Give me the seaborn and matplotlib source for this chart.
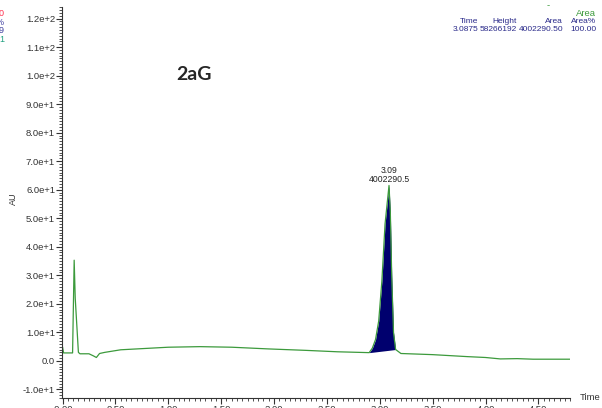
import seaborn as sns
import matplotlib.pyplot as plt
import matplotlib.ticker as mticker
import pandas as pd

# Chromatogram trace (time in min, absorbance in AU)
time = [0.000, 0.004, 0.010, 0.060, 0.095, 0.110, 0.120, 0.150, 0.165, 0.250,
        0.290, 0.320, 0.350, 0.400, 0.550, 0.850, 1.000, 1.300, 1.600, 1.950,
        2.300, 2.600, 2.900, 2.930, 2.960, 2.990, 3.020, 3.050, 3.0875, 3.100,
        3.113, 3.130, 3.150, 3.200, 3.500, 3.830, 4.000, 4.140, 4.300, 4.450, 4.800]
au = [4.9, 4.0, 2.8, 2.8, 2.8, 35.3, 22.0, 3.0, 2.5, 2.5,
      1.8, 1.2, 2.6, 3.0, 3.9, 4.5, 4.8, 5.0, 4.8, 4.2,
      3.7, 3.2, 2.9, 4.5, 7.5, 14.0, 28.0, 48.0, 61.5, 52.0,
      30.0, 10.0, 4.0, 2.6, 2.2, 1.5, 1.2, 0.7, 0.8, 0.6, 0.6]

# integrated peak
peak_start, peak_end = 2.90, 3.15
peak_rt = 3.0875
peak_label = "3.09\n4002290.5"
table_cols = ["Time", "Height", "Area", "Area%"]
table_vals = ["3.0875", "58266192", "4002290.50", "100.00"]

df = pd.DataFrame({"Time": time, "AU": au})

sns.set_style("white")
plt.rcParams["font.family"] = ["Liberation Sans", "DejaVu Sans"]

fig = plt.figure(figsize=(6.02, 4.08), dpi=100)
ax = fig.add_axes([0.103, 0.0245, 0.844, 0.958])

green = "#3c9a3c"
navy = "#00006e"
txt = "#333333"

pk = df[(df.Time >= peak_start) & (df.Time <= peak_end)]
y0, y1 = pk.AU.iloc[0], pk.AU.iloc[-1]
base = y0 + (pk.Time - peak_start) / (peak_end - peak_start) * (y1 - y0)
ax.fill_between(pk.Time, base, pk.AU, color=navy, lw=0)
sns.lineplot(data=df, x="Time", y="AU", ax=ax, color=green, lw=0.9)

ax.set_xlim(-0.005, 4.8)
ax.set_ylim(-13, 124)
ax.set_xlabel("")
ax.set_ylabel("AU", fontsize=6.5, color=txt)
ax.yaxis.set_label_coords(-0.086, 0.51)

ax.xaxis.set_major_locator(mticker.MultipleLocator(0.5))
ax.xaxis.set_minor_locator(mticker.MultipleLocator(0.05))
ax.yaxis.set_major_locator(mticker.MultipleLocator(10))
ax.yaxis.set_minor_locator(mticker.MultipleLocator(1))
ax.xaxis.set_major_formatter(mticker.FuncFormatter(
    lambda v, p: "-0.00" if abs(v) < 1e-9 else f"{v:.2f}"))


def yfmt(v, p):
    if abs(v) < 1e-9:
        return "0.0"
    s = f"{v:.1e}"
    m, e = s.split("e")
    return f"{m}e{int(e):+d}"


ax.yaxis.set_major_formatter(mticker.FuncFormatter(yfmt))
ax.tick_params(axis="both", which="major", length=4, width=0.8,
               labelsize=6.8, color=txt, labelcolor=txt, pad=1)
ax.tick_params(axis="both", which="minor", length=2, width=0.6, color=txt)
ax.tick_params(axis="x", which="both", bottom=True)
ax.tick_params(axis="y", which="both", left=True)

for s in ["top", "right"]:
    ax.spines[s].set_visible(False)
for s in ["left", "bottom"]:
    ax.spines[s].set_color(txt)
    ax.spines[s].set_linewidth(0.8)

ax.annotate(peak_label, (peak_rt, df.AU.max()), xytext=(0, 1),
            textcoords="offset points", ha="center", va="bottom",
            fontsize=6.2, linespacing=1.05, color="#222222")

fig.text(590 / 602, 1 - 398 / 408, "Time", fontsize=6.8, ha="center",
         va="center", color=txt)
fig.text(194 / 602, 1 - 75 / 408, "2aG", fontsize=14, fontweight="bold",
         family="Lato", ha="center", va="center")

# header table, top right
fig.text(596 / 602, 1 - 13 / 408, "Area", fontsize=6.8, color="#3c9a3c",
         ha="right", va="center")
fig.text(548 / 602, 1 - 6 / 408, "-", fontsize=6.8, color="#3c9a3c",
         ha="center", va="center")
col_right = [478, 517, 563, 596]
for xr, c, v in zip(col_right, table_cols, table_vals):
    fig.text(xr / 602, 1 - 21.5 / 408, c, fontsize=6, color="#2a2a8a",
             ha="right", va="center")
    fig.text(xr / 602, 1 - 29.5 / 408, v, fontsize=6, color="#2a2a8a",
             ha="right", va="center")

# clipped legend remnants on the left
for yy, t, c in [(14, "0", "#ff3050"), (22.5, "%", "#4040a0"),
                 (30.5, "9", "#4040a0"), (39, "1", "#20a080")]:
    fig.text(4 / 602, 1 - yy / 408, t, fontsize=6.5, color=c,
             ha="right", va="center")

fig.savefig("out.png", dpi=100)
